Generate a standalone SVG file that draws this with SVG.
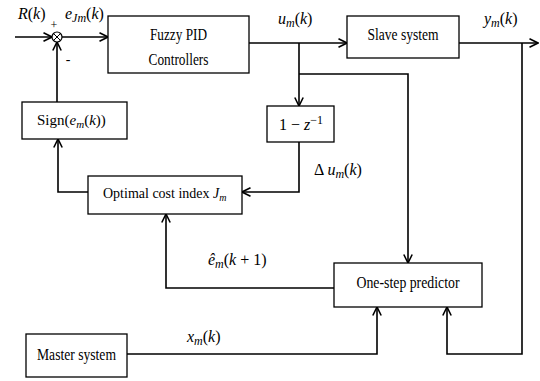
<svg xmlns="http://www.w3.org/2000/svg" width="540" height="381" viewBox="0 0 540 381">
  <style>
    .box { fill: #fff; stroke: #000; stroke-width: 1.3; }
    .wire { fill: none; stroke: #000; stroke-width: 1.6; }
    text { font-family: "Liberation Serif", Tinos, "Noto Serif", "DejaVu Serif", serif; fill: #000; }
    .lbl { font-size: 16px; }
    .math { font-style: italic; font-size: 16px; }
    .up { font-style: normal; }
    .sub { font-size: 12px; }
  </style>
  <defs>
    <marker id="arr" viewBox="0 0 10 10" refX="9.5" refY="5" markerWidth="10" markerHeight="10" markerUnits="userSpaceOnUse" orient="auto">
      <path d="M1,0.8 L9.5,5 L1,9.2" fill="none" stroke="#000" stroke-width="1.6"/>
    </marker>
  </defs>

  <!-- connectors -->
  <g id="connectors" class="wire">
    <path d="M15,37 H52" marker-end="url(#arr)"/>
    <path d="M62,37 H108" marker-end="url(#arr)"/>
    <path d="M57,102 V42" marker-end="url(#arr)"/>
    <path d="M249,43 H347" marker-end="url(#arr)"/>
    <path d="M459,43 H538" marker-end="url(#arr)"/>
    <path d="M299,43 V106" marker-end="url(#arr)"/>
    <path d="M299,74 H408 V263" marker-end="url(#arr)"/>
    <path d="M299,142 V192 H242" marker-end="url(#arr)"/>
    <path d="M88,192 H58 V139" marker-end="url(#arr)"/>
    <path d="M334,288 H166 V214" marker-end="url(#arr)"/>
    <path d="M127,354 H377 V307" marker-end="url(#arr)"/>
    <path d="M522,43 V354 H447 V307" marker-end="url(#arr)"/>
  </g>

  <!-- summing junction -->
  <g id="sum">
    <circle cx="57" cy="37" r="5" fill="#fff" stroke="#000" stroke-width="1.2"/>
    <path d="M53.5,33.5 L60.5,40.5 M60.5,33.5 L53.5,40.5" stroke="#000" stroke-width="1"/>
    <text x="54" y="29" font-size="12" text-anchor="middle">+</text>
    <text x="68" y="64" font-size="14" text-anchor="middle">-</text>
  </g>

  <g id="fuzzy">
    <rect class="box" x="108" y="16" width="141" height="57"/>
    <text class="lbl" x="178.5" y="40" text-anchor="middle" textLength="57" lengthAdjust="spacingAndGlyphs">Fuzzy PID</text>
    <text class="lbl" x="178.5" y="65" text-anchor="middle" textLength="60" lengthAdjust="spacingAndGlyphs">Controllers</text>
  </g>

  <g id="slave">
    <rect class="box" x="347" y="16" width="112" height="42"/>
    <text class="lbl" x="403" y="40" text-anchor="middle" textLength="71" lengthAdjust="spacingAndGlyphs">Slave system</text>
  </g>

  <g id="delta">
    <rect class="box" x="267" y="106" width="67" height="36"/>
    <text class="math" x="279" y="130"><tspan class="up">1 − </tspan>z<tspan class="up sub" dy="-6">−1</tspan></text>
  </g>

  <g id="sign">
    <rect class="box" x="22" y="102" width="105" height="37"/>
    <text x="37" y="125" font-size="15">Sign(<tspan font-style="italic">e</tspan><tspan font-style="italic" font-size="11" dy="3">m</tspan><tspan dy="-3">(</tspan><tspan font-style="italic">k</tspan>))</text>
  </g>

  <g id="cost">
    <rect class="box" x="88" y="176" width="154" height="38"/>
    <text x="103" y="198" font-size="14">Optimal cost index <tspan font-style="italic">J</tspan><tspan font-style="italic" font-size="10" dy="3">m</tspan></text>
  </g>

  <g id="predictor">
    <rect class="box" x="334" y="263" width="148" height="44"/>
    <text class="lbl" x="408" y="288" text-anchor="middle" textLength="103" lengthAdjust="spacingAndGlyphs">One-step predictor</text>
  </g>

  <g id="master">
    <rect class="box" x="26" y="334" width="101" height="43"/>
    <text class="lbl" x="76.5" y="360" text-anchor="middle" textLength="79" lengthAdjust="spacingAndGlyphs">Master system</text>
  </g>

  <!-- signal labels -->
  <g id="labels">
    <text class="math" x="18" y="19">R<tspan class="up">(</tspan>k<tspan class="up">)</tspan></text>
    <text class="math" x="65" y="19">e<tspan class="sub" dy="3">Jm</tspan><tspan class="up" dy="-3">(</tspan>k<tspan class="up">)</tspan></text>
    <text class="math" x="278" y="24">u<tspan class="sub" dy="3">m</tspan><tspan class="up" dy="-3">(</tspan>k<tspan class="up">)</tspan></text>
    <text class="math" x="484" y="24">y<tspan class="sub" dy="3">m</tspan><tspan class="up" dy="-3">(</tspan>k<tspan class="up">)</tspan></text>
    <text class="math" x="314" y="175"><tspan class="up">Δ </tspan>u<tspan class="sub" dy="3">m</tspan><tspan class="up" dy="-3">(</tspan>k<tspan class="up">)</tspan></text>
    <text class="math" x="208" y="265">ê<tspan class="sub" dy="3">m</tspan><tspan class="up" dy="-3">(</tspan>k<tspan class="up"> + 1)</tspan></text>
    <text class="math" x="187" y="342">x<tspan class="sub" dy="3">m</tspan><tspan class="up" dy="-3">(</tspan>k<tspan class="up">)</tspan></text>
  </g>
</svg>
